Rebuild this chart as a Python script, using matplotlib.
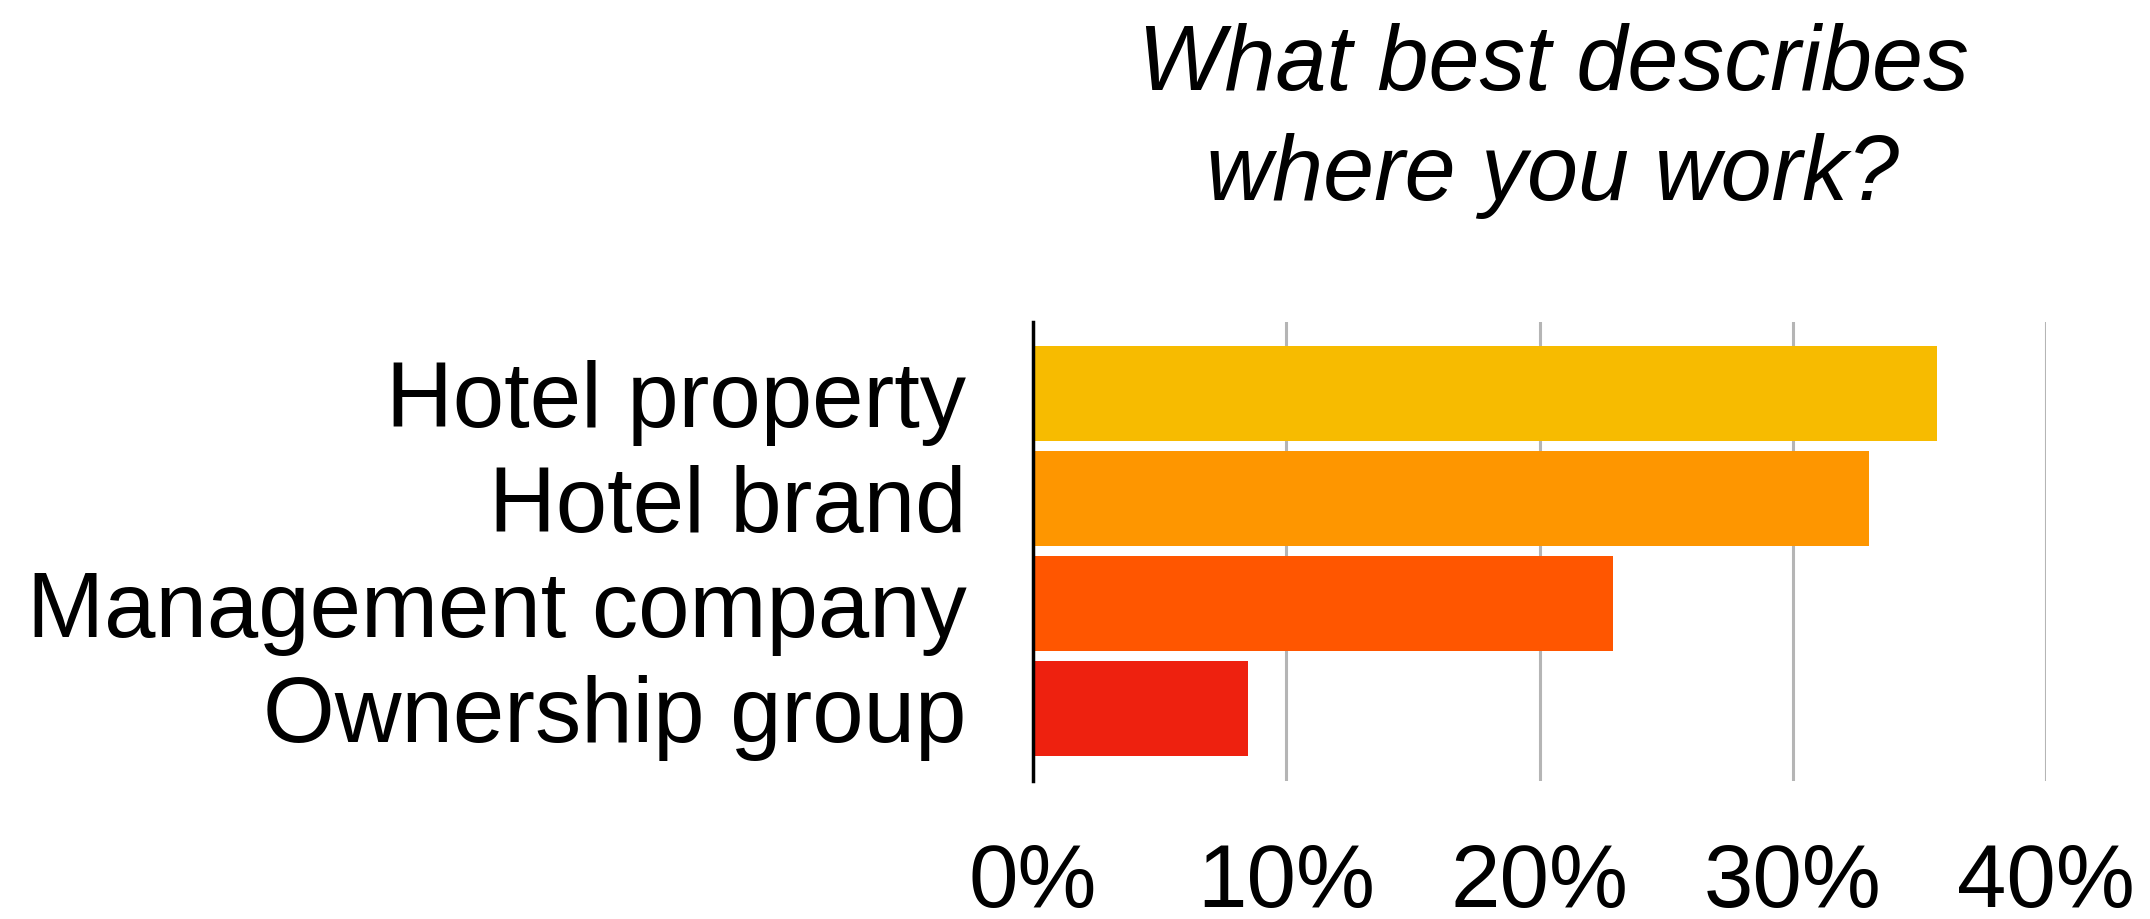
import matplotlib.pyplot as plt
import numpy as np

plt.rcParams['font.family'] = ['Liberation Sans', 'DejaVu Sans']

categories = ['Hotel property', 'Hotel brand', 'Management company', 'Ownership group']
shares = [35.7, 33.0, 22.9, 8.5]
bar_colors = ['#F7BB00', '#FE9600', '#FF5600', '#EE210F']
ticks = [0, 10, 20, 30, 40]
tick_labels = ['0%', '10%', '20%', '30%', '40%']

fig = plt.figure(figsize=(21.5, 9.19), dpi=100)
ax = fig.add_axes([0.4805, 0.1502, 0.4711, 0.4994])

y = np.arange(len(categories))
ax.barh(y, shares, height=0.9, color=bar_colors, zorder=2)

ax.set_ylim(len(categories) - 1 + 0.69, -0.68)
ax.set_xlim(0, 40)

ax.set_yticks(y)
ax.set_yticklabels(categories, fontsize=66.5)
ax.set_xticks(ticks)
ax.set_xticklabels(tick_labels, fontsize=64)
ax.tick_params(axis='y', length=0, pad=48)
ax.tick_params(axis='x', length=0, pad=44)

# vertical gridlines only, no frame except the zero line
ax.grid(axis='x', color='#b5b5b5', linewidth=2.2, zorder=1)
for side in ['top', 'right', 'bottom']:
    ax.spines[side].set_visible(False)
ax.spines['left'].set_linewidth(2.5)
ax.spines['left'].set_color('black')
ax.spines['left'].set_zorder(3)

fig.text(0.7223, 1 - 90 / 919, 'What best describes', fontsize=66, style='italic',
         ha='center', va='baseline')
fig.text(0.7223, 1 - 200 / 919, 'where you work?', fontsize=66, style='italic',
         ha='center', va='baseline')

fig.savefig('out.png', dpi=100, facecolor='white')
